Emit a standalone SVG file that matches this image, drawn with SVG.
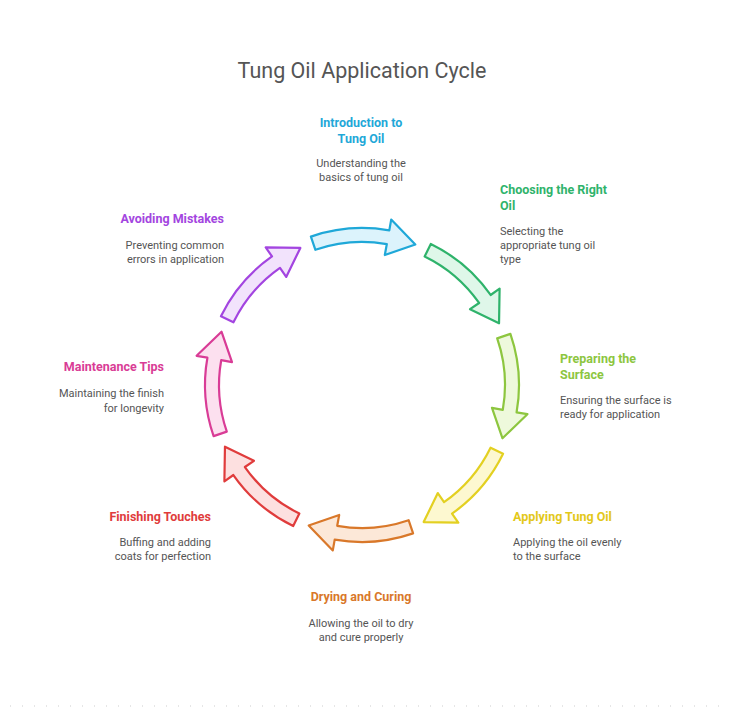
<svg xmlns="http://www.w3.org/2000/svg" width="730" height="710" viewBox="0 0 730 710">
<style>
text{font-family:Roboto,"Liberation Sans",sans-serif}
.t{font-size:21.5px;fill:#555;text-anchor:middle}
.h{font-size:12.5px;font-weight:bold}
.d{font-size:11px;fill:#555}
.m{text-anchor:middle}.e{text-anchor:end}
.a{stroke-width:2.2;stroke-linejoin:round}
</style>
<defs>
<path id="arr" d="M310.9,236.6 A157,157 0 0 1 389.3,230.4 L391.2,219.6 L415.3,244.5 L384.8,255.0 L386.8,244.2 A143,143 0 0 0 315.4,249.8 Z"/>
</defs>
<rect width="730" height="710" fill="#fff"/>
<text class="t" x="362" y="78">Tung Oil Application Cycle</text>
<g id="connectors">
<use href="#arr" class="a" fill="#dcf3fc" stroke="#1fa8d8"/>
<use href="#arr" class="a" fill="#dff7e9" stroke="#2fb36b" transform="rotate(45 362 385)"/>
<use href="#arr" class="a" fill="#eef9dc" stroke="#8dc63f" transform="rotate(90 362 385)"/>
<use href="#arr" class="a" fill="#fdf8d0" stroke="#e3d021" transform="rotate(135 362 385)"/>
<use href="#arr" class="a" fill="#fce8d8" stroke="#d9782a" transform="rotate(180 362 385)"/>
<use href="#arr" class="a" fill="#fde0e0" stroke="#e03c3c" transform="rotate(225 362 385)"/>
<use href="#arr" class="a" fill="#fce0ef" stroke="#d93c96" transform="rotate(270 362 385)"/>
<use href="#arr" class="a" fill="#f2e3fc" stroke="#a345e0" transform="rotate(315 362 385)"/>
</g>
<g id="intro"><text class="h m" fill="#1fa8d8" x="361" y="127">Introduction to</text><text class="h m" fill="#1fa8d8" x="361" y="143">Tung Oil</text>
<text class="d m" x="361" y="167">Understanding the</text><text class="d m" x="361" y="181">basics of tung oil</text></g>
<g id="choosing"><text class="h" fill="#2fb36b" x="500" y="194">Choosing the Right</text><text class="h" fill="#2fb36b" x="500" y="210">Oil</text>
<text class="d" x="500" y="235">Selecting the</text><text class="d" x="500" y="249">appropriate tung oil</text><text class="d" x="500" y="263">type</text></g>
<g id="preparing"><text class="h" fill="#8dc63f" x="560" y="363">Preparing the</text><text class="h" fill="#8dc63f" x="560" y="379">Surface</text>
<text class="d" x="560" y="404">Ensuring the surface is</text><text class="d" x="560" y="418">ready for application</text></g>
<g id="applying"><text class="h" fill="#e3c81a" x="513" y="521">Applying Tung Oil</text>
<text class="d" x="513" y="546">Applying the oil evenly</text><text class="d" x="513" y="560">to the surface</text></g>
<g id="drying"><text class="h m" fill="#d9782a" x="361" y="601">Drying and Curing</text>
<text class="d m" x="361" y="627">Allowing the oil to dry</text><text class="d m" x="361" y="641">and cure properly</text></g>
<g id="finishing"><text class="h e" fill="#e03c3c" x="211" y="521">Finishing Touches</text>
<text class="d e" x="211" y="546">Buffing and adding</text><text class="d e" x="211" y="560">coats for perfection</text></g>
<g id="maintenance"><text class="h e" fill="#d93c96" x="164" y="371">Maintenance Tips</text>
<text class="d e" x="164" y="397">Maintaining the finish</text><text class="d e" x="164" y="412">for longevity</text></g>
<g id="avoiding"><text class="h e" fill="#a345e0" x="224" y="223">Avoiding Mistakes</text>
<text class="d e" x="224" y="249">Preventing common</text><text class="d e" x="224" y="263">errors in application</text></g>
<line x1="10" y1="706" x2="720" y2="706" stroke="#e6e6e6" stroke-width="2" stroke-dasharray="1 11"/>
</svg>
